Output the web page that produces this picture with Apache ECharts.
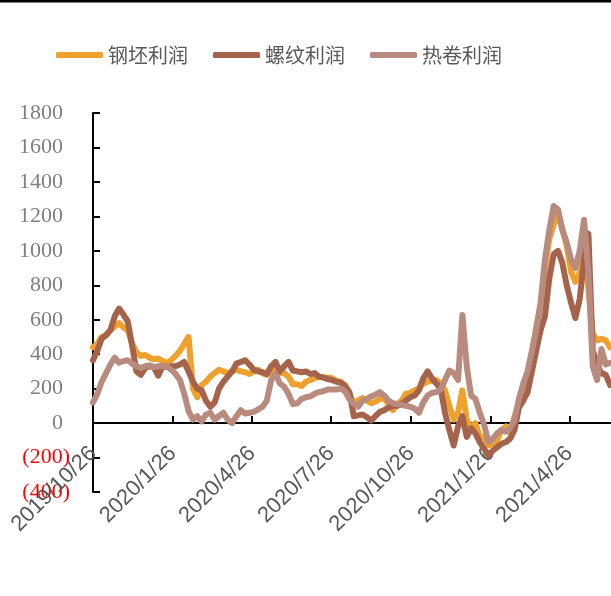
<!DOCTYPE html>
<html>
<head>
<meta charset="utf-8">
<script src="https://cdn.jsdelivr.net/npm/echarts@6/dist/echarts.min.js"></script>
<style>
  html, body { margin: 0; padding: 0; background: #fff; }
  #chart { width: 611px; height: 596px; }
</style>
</head>
<body>
<div id="chart"></div>
<script>
// one point every 5 days starting 2019/10/26
const startDate = [2019, 10, 26];
const stepDays = 5;
const tickLabels = ['2019/10/26', '2020/1/26', '2020/4/26', '2020/7/26', '2020/10/26', '2021/1/26', '2021/4/26'];
const endDate = '2021/6/13';
const yTicks = [-400, -200, 0, 200, 400, 600, 800, 1000, 1200, 1400, 1600, 1800];

const seriesNames = ['钢坯利润', '螺纹利润', '热卷利润'];
const seriesColors = ['#EFA12E', '#A6634B', '#B88B7E'];

const billetProfit = [
  440, 460, 500, 510, 540, 560, 580, 555, 540, 460,
  410, 390, 395, 380, 370, 375, 360, 350, 365, 390,
  420, 460, 500, 200, 150, 220, 240, 270, 290, 310,
  300, 290, 300, 310, 300, 295, 285, 300, 310, 290,
  280, 295, 310, 290, 290, 270, 225, 225, 215, 240,
  250, 260, 270, 265, 265, 260, 245, 240, 220, 170,
  115, 130, 145, 130, 115, 125, 140, 145, 110, 75,
  110, 130, 170, 175, 190, 200, 230, 240, 245, 250,
  230, 190, 100, 20, 60, 190, 20, -30, 0, -80,
  -80, -130, -120, -100, -40, -20, -60, 40, 110, 170,
  260, 400, 560, 680, 900, 1070, 1150, 1220, 1130, 1030,
  880, 820, 870, 990, 780, 520, 480, 490, 480, 440
];
const rebarProfit = [
  365, 420, 490, 510, 540, 620, 665, 630, 590, 450,
  300, 280, 320, 330, 325, 275, 330, 325, 330, 330,
  340, 355, 300, 240, 200, 190, 130, 95, 120, 200,
  240, 270, 300, 345, 355, 365, 340, 310, 300, 295,
  285, 330, 355, 300, 330, 355, 305, 300, 295, 300,
  285, 290, 270, 265, 255, 250, 240, 235, 215, 180,
  40, 45, 50, 35, 15, 40, 65, 75, 90, 100,
  100, 110, 130, 150, 160, 190, 260, 300, 260, 230,
  200, 60, -40, -130, -20, 40, -80, -30, -60, -110,
  -150, -190, -160, -140, -120, -110, -90, -40, 90, 130,
  180, 300, 420, 540, 620, 840, 980, 1000, 930, 800,
  700, 610, 720, 950, 1100, 420, 340, 290, 280, 220
];
const coilProfit = [
  120, 170, 240, 290, 340, 380, 350, 360, 365, 345,
  330, 320, 330, 335, 325, 330, 330, 330, 310, 285,
  250, 170, 70, 20, 40, 10, 50, 60, 20, 40,
  60, 20, 0, 40, 75, 55, 60, 65, 80, 95,
  130, 250, 285, 230, 210, 170, 110, 115, 140, 150,
  155, 170, 180, 185, 195, 195, 195, 200, 185, 140,
  110, 95, 130, 140, 155, 165, 180, 160, 130, 115,
  110, 105, 100, 95, 85, 60, 120, 160, 175, 180,
  195, 250, 305, 290, 250, 627, 330, 160, 140, 60,
  -10, -110, -90, -60, -40, -50, -30, 20, 140, 230,
  300, 420, 540, 700, 950, 1120, 1260, 1240, 1120, 1050,
  950, 900, 1000, 1180, 880, 330, 250, 430, 340, 350
];

const dayMs = 86400000;
const t0 = Date.UTC(startDate[0], startDate[1] - 1, startDate[2]);
function toDay(s) {
  const p = s.split('/').map(Number);
  return Math.round((Date.UTC(p[0], p[1] - 1, p[2]) - t0) / dayMs);
}
function toLabel(day) {
  const d = new Date(t0 + day * dayMs);
  return d.getUTCFullYear() + '/' + (d.getUTCMonth() + 1) + '/' + d.getUTCDate();
}
const tickDays = tickLabels.map(toDay);

function pairs(values) {
  return values.map((v, i) => [i * stepDays, v]);
}

const chart = echarts.init(document.getElementById('chart'));

const option = {
  animation: false,
  graphic: [{
    type: 'rect',
    shape: { x: 0, y: 0, width: 611, height: 2.5 },
    style: { fill: '#000' }
  }],
  legend: {
    top: 40,
    left: 51,
    icon: 'roundRect',
    itemWidth: 47,
    itemHeight: 6,
    itemGap: 25,
    textStyle: {
      fontFamily: 'Noto Sans CJK SC',
      fontSize: 20,
      color: '#595959'
    },
    data: seriesNames
  },
  grid: {
    left: 93,
    right: 0,
    top: 113,
    bottom: 104,
    containLabel: false
  },
  xAxis: {
    type: 'value',
    min: 0,
    max: toDay(endDate),
    splitLine: { show: false },
    axisLine: { onZero: true, lineStyle: { color: '#000', width: 2 } },
    axisTick: {
      show: true,
      inside: true,
      length: 7,
      customValues: tickDays,
      lineStyle: { color: '#000', width: 2 }
    },
    axisLabel: {
      customValues: tickDays,
      rotate: 45,
      margin: -42,
      fontFamily: 'Liberation Sans',
      fontSize: 22,
      color: '#595959',
      formatter: (v) => toLabel(v)
    }
  },
  yAxis: {
    type: 'value',
    min: -400,
    max: 1800,
    interval: 200,
    splitLine: { show: false },
    axisLine: { show: true, lineStyle: { color: '#000', width: 2 } },
    axisTick: {
      show: true,
      inside: true,
      length: 7,
      lineStyle: { color: '#000', width: 2 }
    },
    axisLabel: {
      margin: 23,
      formatter: (v) => v < 0 ? '{n|(' + (-v) + ')}' : '{p|' + v + '}',
      rich: {
        p: { fontFamily: 'Liberation Serif', fontSize: 22, color: '#7f7f7f', padding: [0, 7, 0, 0] },
        n: { fontFamily: 'Liberation Serif', fontSize: 22, color: '#FF0000' }
      }
    }
  },
  series: [billetProfit, rebarProfit, coilProfit].map((vals, k) => ({
    name: seriesNames[k],
    type: 'line',
    data: pairs(vals),
    symbol: 'none',
    color: seriesColors[k],
    lineStyle: { width: 6, color: seriesColors[k], join: 'round', cap: 'round' }
  }))
};

chart.setOption(option);
</script>
</body>
</html>
